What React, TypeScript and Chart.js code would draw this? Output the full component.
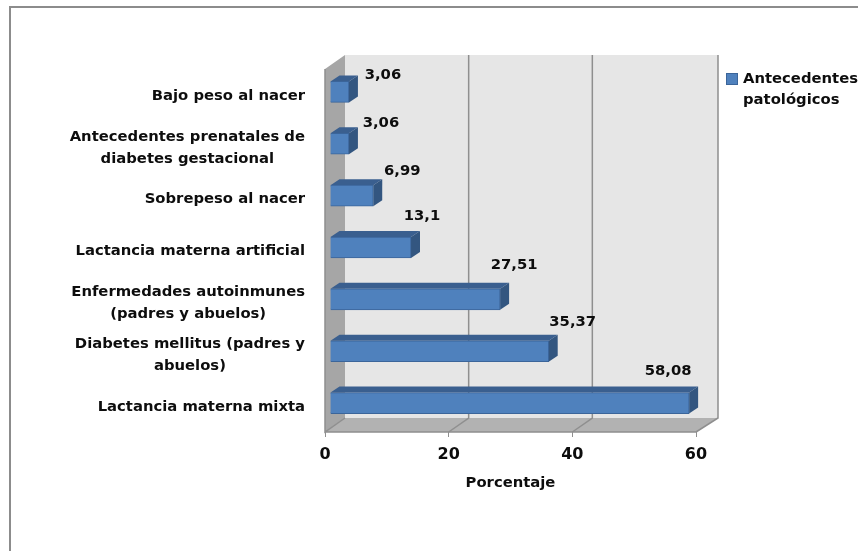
import React, { useEffect, useRef } from "react";
import { Chart, registerables } from "chart.js";

Chart.register(...registerables);

const categories: string[][] = [
  ["Bajo peso al nacer"],
  ["Antecedentes prenatales de", "diabetes gestacional"],
  ["Sobrepeso al nacer"],
  ["Lactancia materna artificial"],
  ["Enfermedades autoinmunes", "(padres y abuelos)"],
  ["Diabetes mellitus (padres y", "abuelos)"],
  ["Lactancia materna mixta"],
];
const values = [3.06, 3.06, 6.99, 13.1, 27.51, 35.37, 58.08];
const valueLabels = ["3,06", "3,06", "6,99", "13,1", "27,51", "35,37", "58,08"];
const seriesName = ["Antecedentes", "patológicos"];
const axisTitle = "Porcentaje";

// Hand-placed data label offsets from each bar's end.
const labelOffsets = [
  [34, -17],
  [32, -21],
  [29, -24],
  [11, -31],
  [14, -34],
  [24, -29],
  [-21, -32],
];

const FONT = "'DejaVu Sans', sans-serif";
const BOLD = `bold 14.8px ${FONT}`;
const TEXT = "#0d0d0d";
const DEPTH_X = 20;
const DEPTH_Y = 14;
const BAR_DX = 5;
const BAR_DY = -3;
const BAR_SIDE_X = 9;
const BAR_SIDE_Y = 6;

function fillPoly(ctx: CanvasRenderingContext2D, pts: number[][], color: string) {
  ctx.beginPath();
  pts.forEach(([x, y], i) => (i ? ctx.lineTo(x, y) : ctx.moveTo(x, y)));
  ctx.closePath();
  ctx.fillStyle = color;
  ctx.fill();
}

const box3d = {
  id: "box3d",
  beforeDraw(chart: any) {
    const { ctx, chartArea: a, scales } = chart;
    const { left: l, right: r, top: t, bottom: b } = a;
    const d = DEPTH_X;
    const h = DEPTH_Y;
    const wallRight = r + d + 2;
    ctx.save();
    // frame around the chart object
    ctx.strokeStyle = "#8c8c8c";
    ctx.lineWidth = 2;
    ctx.strokeRect(10, 7, chart.width + 20, chart.height + 20);

    fillPoly(ctx, [[l + d, t - h], [wallRight, t - h], [wallRight, b - h], [l + d, b - h]], "#e6e6e6");
    fillPoly(ctx, [[l, t], [l + d, t - h], [l + d, b - h], [l, b]], "#a6a6a6");
    fillPoly(ctx, [[l, b], [l + d, b - h], [wallRight, b - h], [r, b]], "#b2b2b2");

    ctx.strokeStyle = "#8f8f8f";
    ctx.lineWidth = 1.5;
    const x = scales.x;
    for (const tick of x.ticks) {
      const px = x.getPixelForValue(tick.value);
      if (tick.value === 0) continue;
      const backX = tick.value === 60 ? wallRight : px + d;
      ctx.beginPath();
      ctx.moveTo(px, b);
      ctx.lineTo(backX, b - h);
      ctx.lineTo(backX, t - h);
      ctx.stroke();
    }
    ctx.beginPath();
    ctx.moveTo(l, t);
    ctx.lineTo(l, b);
    ctx.lineTo(l + d, b - h);
    ctx.moveTo(l, b);
    ctx.lineTo(r, b);
    ctx.stroke();
    ctx.restore();
  },
  beforeDatasetsDraw(chart: any) {
    const { ctx } = chart;
    ctx.save();
    ctx.translate(BAR_DX, BAR_DY);
    chart.getDatasetMeta(0).data.forEach((bar: any) => {
      const top = bar.y - bar.height / 2;
      const bottom = bar.y + bar.height / 2;
      const left = bar.base;
      fillPoly(ctx, [[left, top], [left + BAR_SIDE_X, top - BAR_SIDE_Y], [bar.x + BAR_SIDE_X, top - BAR_SIDE_Y], [bar.x, top]], "#3a5f8f");
      fillPoly(ctx, [[bar.x, top], [bar.x + BAR_SIDE_X, top - BAR_SIDE_Y], [bar.x + BAR_SIDE_X, bottom - BAR_SIDE_Y], [bar.x, bottom]], "#335680");
    });
  },
  afterDatasetsDraw(chart: any) {
    const { ctx, scales } = chart;
    ctx.restore();
    ctx.save();
    ctx.font = BOLD;
    ctx.fillStyle = TEXT;
    ctx.textAlign = "center";
    ctx.textBaseline = "middle";

    // data labels
    chart.getDatasetMeta(0).data.forEach((bar: any, i: number) => {
      const [dx, dy] = labelOffsets[i];
      ctx.fillText(valueLabels[i], bar.x + BAR_DX + dx, bar.y + BAR_DY + dy);
    });

    // category labels: lines centred within a right-aligned block
    const y = scales.y;
    categories.forEach((lines, i) => {
      const width = Math.max(...lines.map((s) => ctx.measureText(s).width));
      const cx = 305 - width / 2;
      const cy = y.getPixelForValue(i) + 1;
      lines.forEach((line, j) => {
        ctx.fillText(line, cx, cy + (j - (lines.length - 1) / 2) * 22);
      });
    });

    // legend
    const key = chart.data.datasets[0];
    ctx.fillStyle = key.backgroundColor;
    ctx.strokeStyle = key.borderColor;
    ctx.lineWidth = 1;
    ctx.fillRect(726.5, 73.5, 11, 11);
    ctx.strokeRect(726.5, 73.5, 11, 11);
    ctx.fillStyle = TEXT;
    ctx.textAlign = "left";
    seriesName.forEach((line, j) => ctx.fillText(line, 743, 79 + j * 21));
    ctx.restore();
  },
};

export default function App() {
  const ref = useRef<HTMLCanvasElement>(null);
  useEffect(() => {
    const chart = new Chart(ref.current!, {
      type: "bar",
      data: {
        labels: categories.map((c) => c.join(" ")),
        datasets: [
          {
            label: seriesName.join(" "),
            data: values,
            backgroundColor: "#4f81bd",
            borderColor: "#3b659a",
            borderWidth: 1,
            barThickness: 21,
          },
        ],
      },
      options: {
        indexAxis: "y",
        animation: false,
        responsive: false,
        layout: { padding: { left: 325, right: 162, top: 69, bottom: 55 } },
        plugins: { legend: { display: false }, tooltip: { enabled: false } },
        scales: {
          x: {
            min: 0,
            max: 60,
            afterFit(scale: any) {
              scale.height = 64;
            },
            ticks: {
              stepSize: 20,
              maxRotation: 0,
              padding: 8,
              color: TEXT,
              font: { family: FONT, size: 16, weight: "bold" },
            },
            grid: { drawOnChartArea: false, drawTicks: true, tickLength: 5, color: "#8f8f8f" },
            border: { display: false },
            title: {
              display: true,
              text: axisTitle,
              color: TEXT,
              padding: { top: 6 },
              font: { family: FONT, size: 14.8, weight: "bold" },
            },
          },
          y: {
            afterFit(scale: any) {
              scale.width = 0;
            },
            ticks: { display: false },
            grid: { display: false },
            border: { display: false },
          },
        },
      },
      plugins: [box3d],
    } as any);
    return () => chart.destroy();
  }, []);
  return (
    <canvas
      ref={ref}
      width={858}
      height={551}
      style={{ position: "absolute", left: 0, top: 0, width: 858, height: 551, background: "#fff" }}
    />
  );
}
